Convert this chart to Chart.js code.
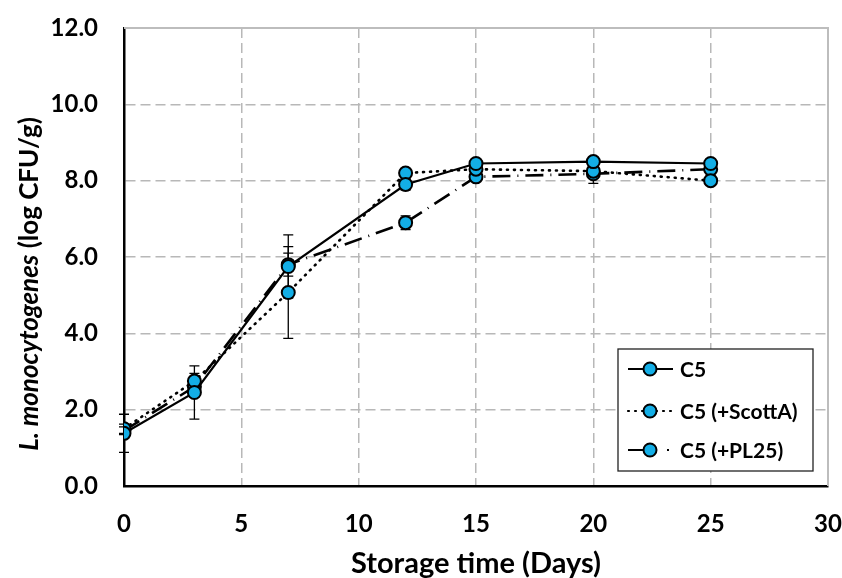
<!DOCTYPE html>
<html>
<head>
<meta charset="utf-8">
<script src="https://cdn.jsdelivr.net/npm/chart.js@4.4.1/dist/chart.umd.min.js"></script>
<style>
  html, body { margin: 0; padding: 0; background: #fff; }
  #wrap { width: 842px; height: 578px; }
</style>
</head>
<body>
<div id="wrap"><canvas id="chart"></canvas></div>
<script>
// storage days
const days = [0, 3, 7, 12, 15, 20, 25];

// log CFU/g
const c5 = [1.38, 2.45, 5.75, 7.90, 8.45, 8.50, 8.45];
const c5Scott = [1.50, 2.75, 5.07, 8.20, 8.30, 8.25, 8.00];
const c5Pl25 = [1.45, 2.60, 5.80, 6.90, 8.10, 8.18, 8.30];

// standard deviations (error bars)
const c5Err = [0.50, 0.70, 0.83, 0.15, 0.08, 0.08, 0.08];
const c5ScottErr = [0.12, 0.20, 1.20, 0.10, 0.08, 0.10, 0.08];
const c5Pl25Err = [0.10, 0.20, 0.30, 0.18, 0.08, 0.25, 0.08];

const seriesNames = ['C5', 'C5 (+ScottA)', 'C5 (+PL25)'];
const xTicks = [0, 5, 10, 15, 20, 25, 30];
const yTicks = [0, 2, 4, 6, 8, 10, 12];

const FONT = 'Lato, "Open Sans", sans-serif';
const cyan = '#13aee6';

function toPoints(ys, errs) {
    return days.map((d, i) => ({ x: d, y: ys[i], err: errs[i] }));
}

const dashes = [[], [1, 6], [18, 7, 1, 7]];

// error bars, drawn under the markers
const errorBars = {
    id: 'errorBars',
    beforeDatasetsDraw(chart) {
        const { ctx, scales: { x, y } } = chart;
        ctx.save();
        ctx.strokeStyle = '#000';
        ctx.lineWidth = 1.3;
        chart.data.datasets.forEach(ds => {
            ds.data.forEach(p => {
                const px = x.getPixelForValue(p.x);
                const top = y.getPixelForValue(p.y + p.err);
                const bot = y.getPixelForValue(p.y - p.err);
                ctx.beginPath();
                ctx.moveTo(px, top); ctx.lineTo(px, bot);
                ctx.moveTo(px - 5, top); ctx.lineTo(px + 5, top);
                ctx.moveTo(px - 5, bot); ctx.lineTo(px + 5, bot);
                ctx.stroke();
            });
        });
        ctx.restore();
    }
};

// frame, y title with italic species name, legend box
const extras = {
    id: 'extras',
    beforeDatasetsDraw(chart) {
        const { ctx, chartArea: a } = chart;
        ctx.save();
        ctx.strokeStyle = '#bdbdbd';
        ctx.lineWidth = 2;
        ctx.beginPath();
        ctx.moveTo(a.left, a.top); ctx.lineTo(a.right, a.top); ctx.lineTo(a.right, a.bottom);
        ctx.stroke();
        ctx.restore();
    },
    afterDraw(chart) {
        const { ctx } = chart;
        // y axis title
        ctx.save();
        ctx.translate(30, 284);
        ctx.rotate(-Math.PI / 2);
        ctx.fillStyle = '#000';
        ctx.textBaseline = 'middle';
        const f1 = 'italic bold 26px ' + FONT;
        const f2 = 'bold 26px ' + FONT;
        const t1 = 'L. monocytogenes', t2 = ' (log CFU/g)';
        ctx.font = f1; const w1 = ctx.measureText(t1).width;
        ctx.font = f2; const w2 = ctx.measureText(t2).width;
        const sx = -(w1 + w2) / 2;
        ctx.font = f1; ctx.textAlign = 'left'; ctx.fillText(t1, sx, 0);
        ctx.font = f2; ctx.fillText(t2, sx + w1, 0);
        ctx.restore();

        // legend
        const bx = 618, by = 349, bw = 195, bh = 122;
        ctx.save();
        ctx.fillStyle = '#fff';
        ctx.fillRect(bx, by, bw, bh);
        ctx.strokeStyle = '#222';
        ctx.lineWidth = 1.3;
        ctx.strokeRect(bx, by, bw, bh);
        const rows = [369, 411, 450];
        chart.data.datasets.forEach((ds, i) => {
            const ry = rows[i];
            ctx.strokeStyle = '#000';
            ctx.lineWidth = 2.2;
            ctx.lineCap = i === 1 ? 'round' : 'butt';
            ctx.setLineDash(i === 1 ? [1, 6] : []);
            ctx.beginPath();
            if (i === 2) {
                ctx.moveTo(628, ry); ctx.lineTo(650, ry);
                ctx.moveTo(667, ry); ctx.lineTo(669, ry);
            } else {
                ctx.moveTo(628, ry); ctx.lineTo(673, ry);
            }
            ctx.stroke();
            ctx.setLineDash([]);
            ctx.beginPath();
            ctx.arc(650, ry, 6.5, 0, Math.PI * 2);
            ctx.fillStyle = cyan;
            ctx.fill();
            ctx.lineWidth = 2;
            ctx.stroke();
            ctx.fillStyle = '#000';
            ctx.font = 'bold 21px ' + FONT;
            ctx.textAlign = 'left';
            ctx.textBaseline = 'middle';
            ctx.fillText(ds.label, 680, ry + 1);
        });
        ctx.restore();
    }
};

const datasets = [c5, c5Scott, c5Pl25].map((ys, i) => ({
    label: seriesNames[i],
    data: toPoints(ys, [c5Err, c5ScottErr, c5Pl25Err][i]),
    borderColor: '#000',
    borderWidth: i === 0 ? 2.2 : 2.6,
    borderDash: dashes[i],
    borderCapStyle: i === 1 ? 'round' : 'butt',
    pointRadius: 6.5,
    pointBorderWidth: 2,
    pointBackgroundColor: cyan,
    pointBorderColor: '#000',
    tension: 0,
    fill: false
}));

new Chart(document.getElementById('chart').getContext('2d'), {
    type: 'line',
    data: { datasets },
    plugins: [errorBars, extras],
    options: {
        responsive: true,
        maintainAspectRatio: false,
        animation: false,
        layout: { padding: { top: 28, right: 14, bottom: 0, left: 0 } },
        plugins: { legend: { display: false }, tooltip: { enabled: false } },
        scales: {
            x: {
                type: 'linear',
                min: 0, max: 30,
                afterFit(s) { s.height = 92; s.paddingLeft = 0; s.paddingRight = 0; },
                afterBuildTicks(s) { s.ticks = xTicks.map(v => ({ value: v })); },
                grid: { color: '#b8b8b8', lineWidth: 1.5, drawTicks: false },
                border: { color: '#000', width: 2.5, dash: [10, 5] },
                ticks: {
                    padding: 24,
                    color: '#000',
                    font: { family: FONT, size: 24, weight: 'bold' }
                },
                title: {
                    display: true,
                    text: 'Storage time (Days)',
                    color: '#000',
                    font: { family: FONT, size: 29, weight: 'bold', lineHeight: 1.0 },
                    padding: { top: 0, bottom: 0 }
                }
            },
            y: {
                min: 0, max: 12,
                afterFit(s) { s.width = 124; s.paddingTop = 0; s.paddingBottom = 0; },
                afterBuildTicks(s) { s.ticks = yTicks.map(v => ({ value: v })); },
                grid: { color: '#b8b8b8', lineWidth: 1.5, drawTicks: false },
                border: { color: '#000', width: 2.5, dash: [10, 5] },
                ticks: {
                    padding: 26,
                    color: '#000',
                    font: { family: FONT, size: 24, weight: 'bold' },
                    callback: v => v.toFixed(1)
                }
            }
        }
    }
});
</script>
</body>
</html>
